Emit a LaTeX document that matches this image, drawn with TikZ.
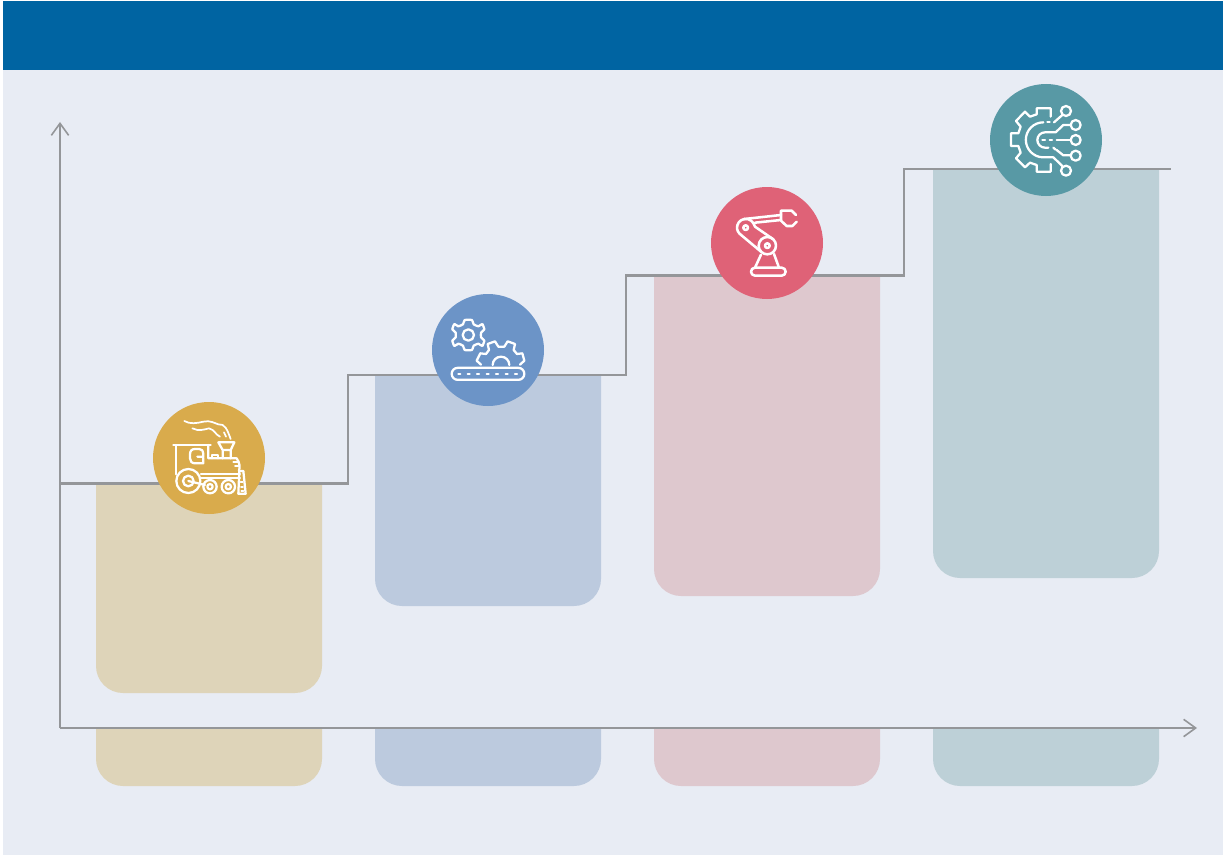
\documentclass[tikz,border=0pt]{standalone}
\usetikzlibrary{arrows.meta}
\definecolor{hdr}{HTML}{0064A2}
\definecolor{bgc}{HTML}{E8ECF4}
\definecolor{linec}{HTML}{949699}
\definecolor{tanb}{HTML}{DED4B9}
\definecolor{blueb}{HTML}{BCCADE}
\definecolor{pinkb}{HTML}{DEC8CE}
\definecolor{tealb}{HTML}{BDD0D7}
\definecolor{tanc}{HTML}{D9AB4C}
\definecolor{bluec}{HTML}{6C94C7}
\definecolor{pinkc}{HTML}{DF6277}
\definecolor{tealc}{HTML}{5899A5}
\tikzset{
  axisline/.style={draw=linec,line width=1.7pt,line join=miter},
  axistip/.style={-{Straight Barb[length=9pt,width=13pt,line width=1.2pt]}},
  badge/.style={circle,minimum size=84pt,inner sep=0pt,outer sep=0pt},
  icon/.style={draw=white,line width=1.7pt,line cap=round,line join=round,fill=none},
  thinicon/.style={icon,line width=1.3pt},
}
\newcommand{\barpath}[5]{\fill[#5] (#1,#3) -- (#1,#4-27) arc[start angle=180,end angle=90,radius=27] -- (#2-27,#4) arc[start angle=90,end angle=0,radius=27] -- (#2,#3) -- cycle;}
\begin{document}
\begin{tikzpicture}[x=0.75pt,y=-0.75pt]
\useasboundingbox (0,0) rectangle (1225,856);
\fill[white] (0,0) rectangle (1225,856);
\fill[bgc] (3,70) rectangle (1223,855);
\fill[hdr] (3,1) rectangle (1223,70);
% bars
\barpath{96}{322}{484}{693}{tanb}
\barpath{375}{601}{375}{606}{blueb}
\barpath{654}{880}{275}{596}{pinkb}
\barpath{933}{1159}{169}{578}{tealb}
\barpath{96}{322}{728}{786}{tanb}
\barpath{375}{601}{728}{786}{blueb}
\barpath{654}{880}{728}{786}{pinkb}
\barpath{933}{1159}{728}{786}{tealb}
% named coordinates for axes and stairs
\coordinate (ytop) at (60,122);
\coordinate (origin) at (60,728);
\coordinate (xend) at (1197,728);
\coordinate (s0) at (60,483.5);
\coordinate (s1) at (348,375);
\coordinate (s2) at (626,275.5);
\coordinate (s3) at (904,169);
\coordinate (s4) at (1171,169);
\draw[axisline,axistip] (origin) -- (ytop);
\draw[axisline,axistip] (origin) -- (xend);
\draw[axisline] (s0) -| (s1) -| (s2) -| (s3) -- (s4);
% badges
\node[badge,fill=tanc] (train) at (209,458) {};
\node[badge,fill=bluec] (gears) at (488,350) {};
\node[badge,fill=pinkc] (robot) at (767,243) {};
\node[badge,fill=tealc] (chip) at (1046,140) {};
% train icon
\begin{scope}[shift={(140,395)},x=0.25pt,y=-0.25pt]
  \draw[thinicon] (133,78) .. controls (150,88) and (170,85) .. (190,80) .. controls (210,75) and (225,85) .. (235,88) .. controls (255,85) and (262,105) .. (272,132);
  \draw[thinicon] (157,100) .. controls (175,110) and (195,103) .. (207,100) .. controls (225,105) and (225,118) .. (240,125);
  \draw[thinicon] (252,112) -- (258,125);
  \draw[icon] (100,150) -- (212,150);
  \draw[icon] (107,150) -- (107,238);
  \draw[icon] (190,188) -- (190,205) -- (165,205) .. controls (155,205) and (150,198) .. (150,190) -- (150,178) .. controls (150,168) and (155,162) .. (165,162) -- (178,162) .. controls (186,162) and (190,168) .. (190,176) -- (190,185) -- (172,185);
  \draw[icon] (205,150) -- (205,190) -- (290,190) .. controls (300,205) and (300,215) .. (297,228);
  \draw[icon] (216,190) -- (216,180) -- (235,180) -- (235,190);
  \draw[icon] (235,142) -- (283,142) -- (272,165) -- (272,190) (235,142) -- (248,165) -- (248,190) (248,165) -- (272,165);
  \draw[thinicon] (280,202) -- (296,202) (285,213) -- (298,213);
  \draw[icon] (183,237) -- (300,237) (183,250) -- (300,250);
  \draw[icon] (145,258) circle[radius=36];
  \draw[icon] (145,258) circle[radius=16];
  \draw[icon] (145,258) -- (195,270);
  \draw[icon] (210,275) circle[radius=20];
  \draw[icon] (210,275) circle[radius=8];
  \draw[icon] (265,275) circle[radius=20];
  \draw[icon] (265,275) circle[radius=8];
  \draw[icon] (298,228) -- (310,228) -- (317,296) -- (295,296) -- (298,228);
  \draw[thinicon] (302,262) -- (308,262) (303,275) -- (309,275) (304,287) -- (310,287);
\end{scope}
% gears icon
\begin{scope}[shift={(425,290)},x=0.25pt,y=-0.25pt]
  \draw[icon] (130,135) circle[radius=17];
  \draw[icon] plot[smooth cycle,tension=0.25] coordinates {
    (119,90) (141,90) (146,103) (160,109) (172,102) (178,118) (168,128) (168,142) (178,152) (172,168) (160,161) (146,167) (141,180) (119,180) (114,167) (100,161) (88,168) (82,152) (92,142) (92,128) (82,118) (88,102) (100,109) (114,103)};
  \draw[icon] (203,225) arc[start angle=180,end angle=360,radius=25];
  \draw[icon] (168,224) -- (155,212) -- (166,190) -- (183,192) -- (192,180) -- (188,162) -- (210,154) -- (220,170) -- (238,170) -- (248,154) -- (270,162) -- (266,180) -- (276,192) -- (292,190) -- (298,212) -- (285,224);
  \draw[icon] (98,233.5) -- (280,233.5) arc[start angle=270,end angle=450,radius=18] -- (98,269.5) arc[start angle=90,end angle=270,radius=18];
  \foreach \x in {103,131,159,188,216,245,273} \draw[icon] (\x-3,252) -- (\x+3,252);
\end{scope}
% robot icon
\begin{scope}[shift={(705,180)},x=0.25pt,y=-0.25pt,line width=1.9pt]
  \draw[icon,line width=1.9pt] (122,143) circle[radius=7];
  \draw[icon,line width=1.9pt] (187,197) circle[radius=7];
  \draw[icon,line width=1.9pt] (187,197) circle[radius=26];
  \draw[icon,line width=1.9pt] (118,117) arc[start angle=261,end angle=135,radius=26] -- (168,215);
  \draw[icon,line width=1.9pt] (118,117) .. controls (135,115) and (145,125) .. (150,140) -- (205,178);
  \draw[icon,line width=1.9pt] (118,117) -- (228,105) (150,128) -- (228,120);
  \draw[icon,line width=1.9pt] (273,105) -- (260,92) -- (228,92) -- (228,122) -- (245,138) -- (262,138) -- (275,125);
  \draw[icon,line width=1.9pt] (168,224) -- (150,263) (207,222) -- (222,263);
  \draw[icon,line width=1.9pt] (150,263) -- (230,263) arc[start angle=270,end angle=450,radius=12] -- (150,287) arc[start angle=90,end angle=270,radius=12];
\end{scope}
% circuit gear icon
\begin{scope}[shift={(985,80)},x=0.25pt,y=-0.25pt]
  \draw[icon] (197,110) -- (197,85) -- (155,85) -- (155,103) -- (135,110) -- (120,95) -- (93,123) -- (107,140) -- (100,160) -- (78,160) -- (78,198) -- (100,198) -- (107,218) -- (93,235) -- (120,262) -- (135,248) -- (155,255) -- (155,275) -- (197,275) -- (197,252);
  \draw[icon] (175,127) arc[start angle=270,end angle=90,radius=52.5] -- (205,232) -- (232,258);
  \draw[icon] (187,127) -- (194,127);
  \draw[icon] (207,127) -- (232,105);
  \draw[icon] (243,93) circle[radius=15];
  \draw[icon] (257,135) -- (235,135) -- (212,157) -- (180,157) arc[start angle=270,end angle=90,radius=23] -- (190,203);
  \draw[icon] (205,203) -- (212,209);
  \draw[icon] (215,210) -- (235,226) -- (257,226);
  \draw[icon] (272,135) circle[radius=15];
  \draw[icon] (272,180) circle[radius=15];
  \draw[icon] (272,227) circle[radius=15];
  \draw[icon] (243,272) circle[radius=15];
  \draw[icon] (215,180) -- (257,180);
  \draw[icon] (172,180) -- (180,180) (194,180) -- (201,180);
\end{scope}
\end{tikzpicture}
\end{document}
